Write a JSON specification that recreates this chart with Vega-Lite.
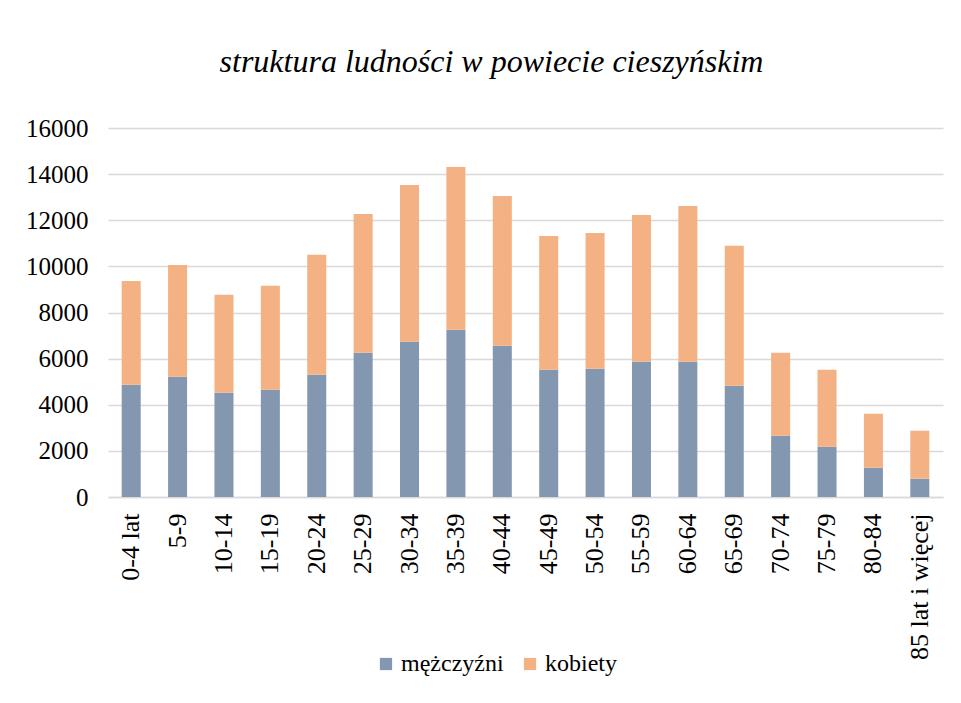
{
  "$schema": "https://vega.github.io/schema/vega-lite/v6.json",
  "width": 835,
  "height": 369,
  "autosize": {"type": "none"},
  "padding": {"left": 108, "top": 128, "right": 18, "bottom": 206},
  "background": "white",
  "title": {
    "text": "struktura ludności w powiecie cieszyńskim",
    "font": "Liberation Serif",
    "fontStyle": "italic",
    "fontWeight": "normal",
    "fontSize": 32,
    "color": "#000000",
    "anchor": "middle",
    "dx": -34,
    "offset": 37
  },
  "data": {
    "values": [
      {"age": "0-4 lat", "sex": "mężczyźni", "value": 4870},
      {"age": "0-4 lat", "sex": "kobiety", "value": 4500},
      {"age": "5-9", "sex": "mężczyźni", "value": 5210},
      {"age": "5-9", "sex": "kobiety", "value": 4850},
      {"age": "10-14", "sex": "mężczyźni", "value": 4520},
      {"age": "10-14", "sex": "kobiety", "value": 4245},
      {"age": "15-19", "sex": "mężczyźni", "value": 4650},
      {"age": "15-19", "sex": "kobiety", "value": 4505},
      {"age": "20-24", "sex": "mężczyźni", "value": 5300},
      {"age": "20-24", "sex": "kobiety", "value": 5200},
      {"age": "25-29", "sex": "mężczyźni", "value": 6250},
      {"age": "25-29", "sex": "kobiety", "value": 6025},
      {"age": "30-34", "sex": "mężczyźni", "value": 6730},
      {"age": "30-34", "sex": "kobiety", "value": 6800},
      {"age": "35-39", "sex": "mężczyźni", "value": 7250},
      {"age": "35-39", "sex": "kobiety", "value": 7060},
      {"age": "40-44", "sex": "mężczyźni", "value": 6555},
      {"age": "40-44", "sex": "kobiety", "value": 6500},
      {"age": "45-49", "sex": "mężczyźni", "value": 5515},
      {"age": "45-49", "sex": "kobiety", "value": 5805},
      {"age": "50-54", "sex": "mężczyźni", "value": 5560},
      {"age": "50-54", "sex": "kobiety", "value": 5890},
      {"age": "55-59", "sex": "mężczyźni", "value": 5860},
      {"age": "55-59", "sex": "kobiety", "value": 6370},
      {"age": "60-64", "sex": "mężczyźni", "value": 5860},
      {"age": "60-64", "sex": "kobiety", "value": 6760},
      {"age": "65-69", "sex": "mężczyźni", "value": 4820},
      {"age": "65-69", "sex": "kobiety", "value": 6070},
      {"age": "70-74", "sex": "mężczyźni", "value": 2655},
      {"age": "70-74", "sex": "kobiety", "value": 3595},
      {"age": "75-79", "sex": "mężczyźni", "value": 2180},
      {"age": "75-79", "sex": "kobiety", "value": 3335},
      {"age": "80-84", "sex": "mężczyźni", "value": 1270},
      {"age": "80-84", "sex": "kobiety", "value": 2340},
      {"age": "85 lat i więcej", "sex": "mężczyźni", "value": 795},
      {"age": "85 lat i więcej", "sex": "kobiety", "value": 2080}
    ]
  },
  "transform": [
    {"calculate": "datum.sex === 'mężczyźni' ? 0 : 1", "as": "stackOrder"}
  ],
  "mark": {"type": "bar"},
  "encoding": {
    "x": {
      "field": "age",
      "type": "nominal",
      "sort": null,
      "scale": {"paddingInner": 0.59, "paddingOuter": 0.295},
      "axis": {
        "title": null,
        "labelAngle": -90,
        "labelFont": "Liberation Serif",
        "labelFontSize": 26,
        "labelColor": "#000000",
        "labelPadding": 16,
        "ticks": false,
        "domainColor": "#d9d9d9",
        "domainWidth": 1.5,
        "labelOverlap": false
      }
    },
    "y": {
      "field": "value",
      "type": "quantitative",
      "stack": "zero",
      "scale": {"domain": [0, 16000], "nice": false},
      "axis": {
        "title": null,
        "values": [0, 2000, 4000, 6000, 8000, 10000, 12000, 14000, 16000],
        "format": "d",
        "labelFont": "Liberation Serif",
        "labelFontSize": 25,
        "labelColor": "#000000",
        "labelPadding": 20,
        "ticks": false,
        "domain": false,
        "gridColor": "#d9d9d9",
        "gridWidth": 1.5
      }
    },
    "color": {
      "field": "sex",
      "type": "nominal",
      "scale": {"domain": ["mężczyźni", "kobiety"], "range": ["#8497B0", "#F4B183"]},
      "legend": {
        "title": null,
        "orient": "none",
        "direction": "horizontal",
        "legendX": 266,
        "legendY": 524,
        "symbolType": "square",
        "symbolSize": 150,
        "labelFont": "Liberation Serif",
        "labelFontSize": 24,
        "labelColor": "#000000",
        "columnPadding": 14,
        "labelOffset": 3
      }
    },
    "order": {"field": "stackOrder", "type": "quantitative"}
  },
  "config": {
    "view": {"stroke": null}
  }
}
